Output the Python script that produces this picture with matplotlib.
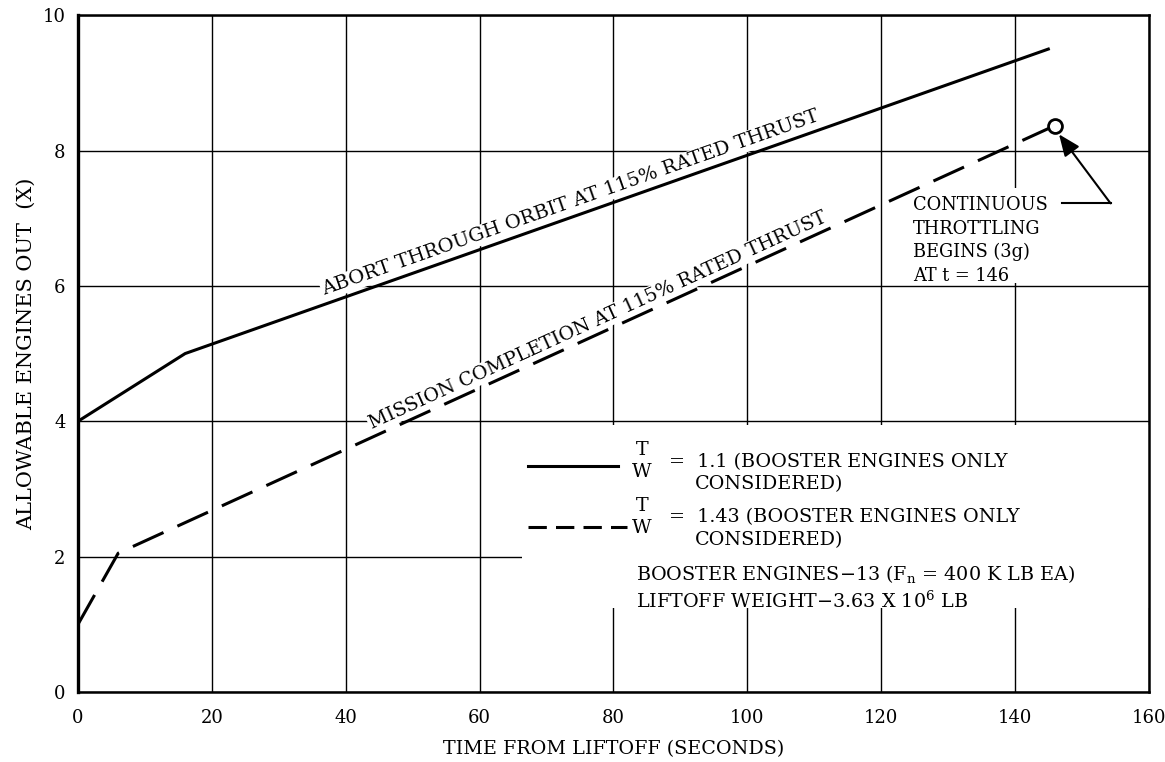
import matplotlib
matplotlib.use("Agg")
import matplotlib.pyplot as plt
from matplotlib.patches import Rectangle

plt.rcParams['font.family'] = ['DejaVu Serif']
plt.rcParams['mathtext.default'] = 'regular'

# data
time_abort = [0, 16, 145]
engines_abort = [4.0, 5.0, 9.5]

time_mission = [0, 6, 146]
engines_mission = [1.0, 2.05, 8.37]

throttle_time = [146]
throttle_engines = [8.37]

x_ticks = [0, 20, 40, 60, 80, 100, 120, 140, 160]
y_ticks = [0, 2, 4, 6, 8, 10]

fig = plt.figure(figsize=(11.65, 7.62), dpi=100)
ax = fig.add_axes([0.067, 0.092, 0.919, 0.888])

ax.set_xlim(0, 160)
ax.set_ylim(0, 10)
ax.set_xticks(x_ticks)
ax.set_yticks(y_ticks)
ax.tick_params(length=0, labelsize=13)
ax.tick_params(axis='x', pad=12)
ax.tick_params(axis='y', pad=9)
ax.grid(True, color='black', lw=1.0)
ax.set_axisbelow(True)
for s in ax.spines.values():
    s.set_linewidth(1.8)
ax.spines['left'].set_linewidth(2.4)

# white areas behind legend text and the throttling note
ax.add_patch(Rectangle((66.4, 1.24), 93.6, 2.71, facecolor='white',
                       edgecolor='none', zorder=1))
ax.add_patch(Rectangle((124.3, 6.04), 27.0, 1.40, facecolor='white',
                       edgecolor='none', zorder=1))

ax.plot(time_abort, engines_abort, color='black', lw=2.2, zorder=2)
line, = ax.plot(time_mission, engines_mission, color='black', lw=2.2, zorder=2)
line.set_dashes([11, 5])
ax.plot(throttle_time, throttle_engines, 'o', ms=10, mfc='white', mec='black',
        mew=2, zorder=3)

box = dict(facecolor='white', edgecolor='none', pad=1)
ax.text(73.9, 7.15, "ABORT THROUGH ORBIT AT 115% RATED THRUST", rotation=19.4,
        rotation_mode='anchor', ha='center', va='baseline', fontsize=14,
        bbox=box, zorder=1.5)
ax.text(78.0, 5.42, "MISSION COMPLETION AT 115% RATED THRUST", rotation=24.5,
        rotation_mode='anchor', ha='center', va='baseline', fontsize=13.8,
        bbox=box, zorder=1.5)

# throttling note
ax.text(124.8, 7.33, "CONTINUOUS\nTHROTTLING\nBEGINS (3g)\nAT t = 146",
        ha='left', va='top', fontsize=12.8, linespacing=1.4, zorder=3)
ax.plot([147.0, 154.3], [7.22, 7.22], color='black', lw=1.5, zorder=3)
ax.annotate('', xy=(146.6, 8.24), xytext=(154.3, 7.22),
            arrowprops=dict(arrowstyle='-|>,head_length=0.6,head_width=0.25',
                            color='black', lw=1.5, mutation_scale=22,
                            shrinkA=0, shrinkB=0), zorder=3)

# legend
ax.plot([67.2, 80.7], [3.34, 3.34], color='black', lw=2.2, zorder=3)
leg, = ax.plot([67.2, 82.0], [2.44, 2.44], color='black', lw=2.2, zorder=3)
leg.set_dashes([6, 3])
fs = 13.8
ax.text(84.3, 3.57, "T", ha='center', va='center', fontsize=fs, zorder=3)
ax.text(84.3, 3.25, "W", ha='center', va='center', fontsize=fs, zorder=3)
ax.text(88.3, 3.40, "=  1.1 (BOOSTER ENGINES ONLY", ha='left', va='center',
        fontsize=fs, zorder=3)
ax.text(92.2, 3.07, "CONSIDERED)", ha='left', va='center', fontsize=fs, zorder=3)
ax.text(84.3, 2.75, "T", ha='center', va='center', fontsize=fs, zorder=3)
ax.text(84.3, 2.42, "W", ha='center', va='center', fontsize=fs, zorder=3)
ax.text(88.3, 2.58, "=  1.43 (BOOSTER ENGINES ONLY", ha='left', va='center',
        fontsize=fs, zorder=3)
ax.text(92.2, 2.25, "CONSIDERED)", ha='left', va='center', fontsize=fs, zorder=3)
ax.text(83.4, 1.74, "BOOSTER ENGINES\u221213 (F$_n$ = 400 K LB EA)", ha='left',
        va='center', fontsize=fs, zorder=3)
ax.text(83.4, 1.34, "LIFTOFF WEIGHT\u22123.63 X 10$^6$ LB", ha='left',
        va='center', fontsize=fs, zorder=3)

ax.set_xlabel("TIME FROM LIFTOFF (SECONDS)", fontsize=13.8, labelpad=10)
ax.set_ylabel("ALLOWABLE ENGINES OUT  (X)", fontsize=15, labelpad=5)

fig.savefig("out.png", dpi=100)
